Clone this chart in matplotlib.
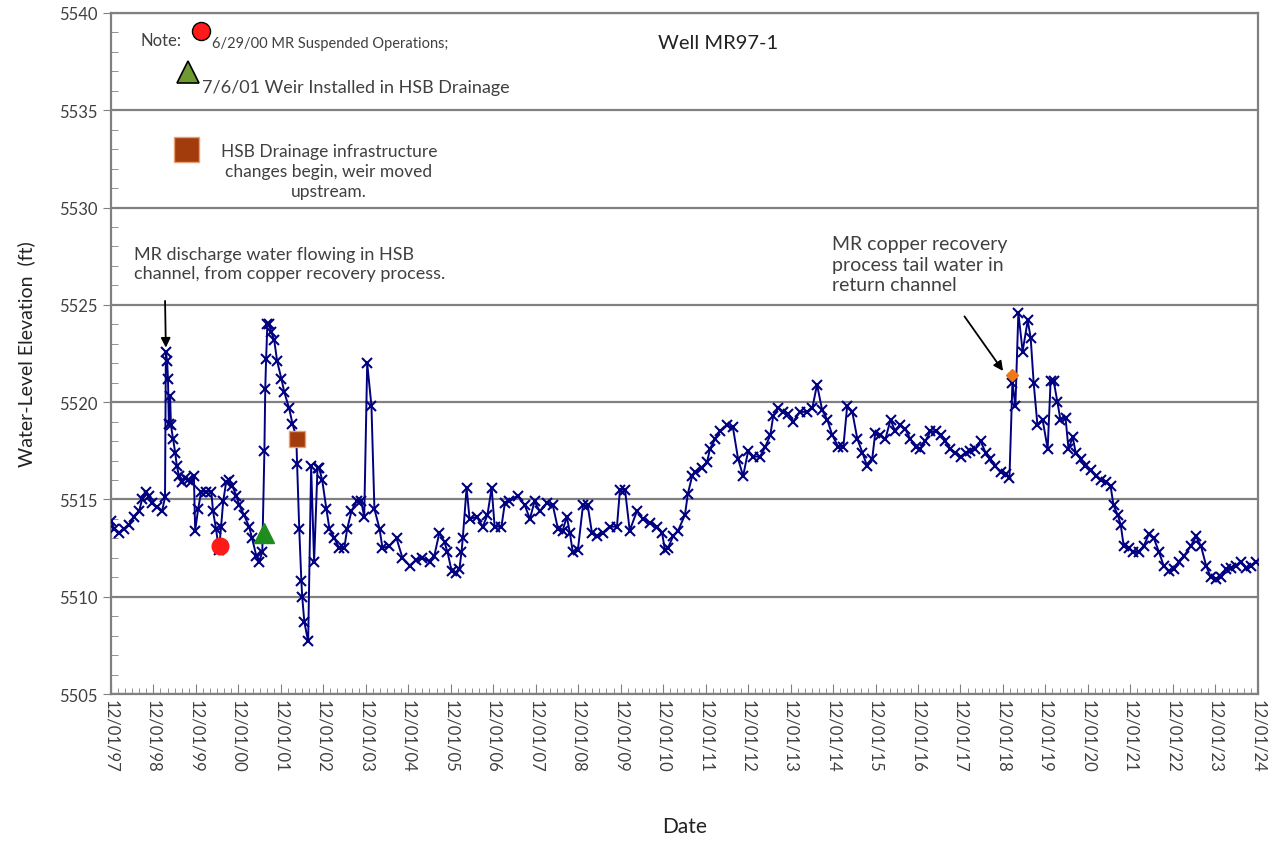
import matplotlib.pyplot as plt
from matplotlib.ticker import FixedLocator, MultipleLocator

# decimal years and water-level elevation (ft)
years = [
    1997.92, 1997.99, 1998.11, 1998.22, 1998.34, 1998.46, 1998.58, 1998.65, 1998.74, 1998.81,
    1998.88, 1999.00, 1999.12, 1999.19, 1999.21, 1999.24, 1999.26, 1999.28, 1999.31, 1999.33,
    1999.38, 1999.43, 1999.47, 1999.52, 1999.59, 1999.66, 1999.73, 1999.80, 1999.87, 1999.90,
    1999.97, 2000.04, 2000.16, 2000.28, 2000.32, 2000.39, 2000.46, 2000.51, 2000.56, 2000.63,
    2000.70, 2000.77, 2000.87, 2000.94, 2001.05, 2001.17, 2001.24, 2001.34, 2001.41, 2001.48,
    2001.53, 2001.55, 2001.57, 2001.60, 2001.64, 2001.69, 2001.76, 2001.83, 2001.93, 2002.00,
    2002.11, 2002.19, 2002.28, 2002.30, 2002.35, 2002.40, 2002.42, 2002.47, 2002.56, 2002.63,
    2002.70, 2002.78, 2002.82, 2002.89, 2002.99, 2003.06, 2003.18, 2003.29, 2003.41, 2003.48,
    2003.58, 2003.70, 2003.81, 2003.88, 2003.95, 2004.05, 2004.12, 2004.24, 2004.31, 2004.47,
    2004.64, 2004.78, 2004.95, 2005.11, 2005.25, 2005.42, 2005.53, 2005.65, 2005.77, 2005.84,
    2005.94, 2006.05, 2006.12, 2006.17, 2006.20, 2006.29, 2006.36, 2006.53, 2006.67, 2006.78,
    2006.88, 2006.95, 2007.11, 2007.19, 2007.30, 2007.49, 2007.66, 2007.78, 2007.89, 2008.01,
    2008.18, 2008.32, 2008.44, 2008.55, 2008.65, 2008.72, 2008.79, 2008.91, 2009.03, 2009.14,
    2009.24, 2009.36, 2009.50, 2009.66, 2009.83, 2009.90, 2010.02, 2010.13, 2010.30, 2010.44,
    2010.61, 2010.77, 2010.89, 2010.96, 2011.03, 2011.15, 2011.27, 2011.43, 2011.50, 2011.60,
    2011.67, 2011.83, 2011.95, 2012.02, 2012.14, 2012.26, 2012.42, 2012.56, 2012.68, 2012.80,
    2012.92, 2013.04, 2013.20, 2013.32, 2013.44, 2013.51, 2013.63, 2013.74, 2013.86, 2013.98,
    2014.14, 2014.31, 2014.43, 2014.54, 2014.66, 2014.78, 2014.90, 2015.04, 2015.16, 2015.25,
    2015.37, 2015.49, 2015.61, 2015.72, 2015.84, 2015.91, 2016.03, 2016.15, 2016.27, 2016.38,
    2016.50, 2016.62, 2016.74, 2016.86, 2016.97, 2017.09, 2017.21, 2017.33, 2017.45, 2017.56,
    2017.68, 2017.80, 2017.92, 2018.04, 2018.15, 2018.27, 2018.39, 2018.51, 2018.62, 2018.74,
    2018.86, 2018.98, 2019.07, 2019.14, 2019.21, 2019.28, 2019.38, 2019.50, 2019.57, 2019.64,
    2019.73, 2019.85, 2019.97, 2020.04, 2020.11, 2020.20, 2020.27, 2020.39, 2020.46, 2020.56,
    2020.63, 2020.75, 2020.86, 2020.98, 2021.10, 2021.22, 2021.34, 2021.45, 2021.52, 2021.62,
    2021.69, 2021.76, 2021.88, 2021.99, 2022.11, 2022.23, 2022.35, 2022.47, 2022.59, 2022.70,
    2022.82, 2022.94, 2023.06, 2023.18, 2023.34, 2023.46, 2023.58, 2023.70, 2023.81, 2023.93,
    2024.05, 2024.17, 2024.29, 2024.40, 2024.52, 2024.64, 2024.76, 2024.88,
]
elevation = [
    5513.9, 5513.5, 5513.3, 5513.5, 5513.7, 5514.1, 5514.4, 5515.0, 5515.4, 5515.2,
    5514.8, 5514.6, 5514.4, 5515.1, 5522.6, 5522.1, 5521.2, 5518.9, 5520.3, 5518.8,
    5518.1, 5517.4, 5516.7, 5516.2, 5515.9, 5516.1, 5516.0, 5515.9, 5516.2, 5513.4,
    5514.5, 5515.4, 5515.4, 5515.4, 5514.4, 5513.5, 5512.4, 5513.6, 5514.9, 5515.9,
    5516.0, 5515.7, 5515.2, 5514.7, 5514.2, 5513.6, 5513.0, 5512.1, 5511.8, 5512.3,
    5517.5, 5520.7, 5522.2, 5524.0, 5524.0, 5523.6, 5523.2, 5522.1, 5521.2, 5520.5,
    5519.7, 5518.9, 5518.2, 5516.8, 5513.5, 5510.8, 5510.0, 5508.7, 5507.7, 5516.7,
    5511.8, 5516.6, 5516.6, 5516.0, 5514.5, 5513.5, 5513.0, 5512.5, 5512.5, 5513.5,
    5514.4, 5514.9, 5514.9, 5514.1, 5522.0, 5519.8, 5514.5, 5513.5, 5512.5, 5512.6,
    5513.0, 5512.0, 5511.6, 5511.9, 5512.0, 5511.8, 5512.1, 5513.3, 5512.8, 5512.3,
    5511.3, 5511.2, 5511.4, 5512.3, 5513.0, 5515.6, 5514.0, 5514.1, 5513.6, 5514.2,
    5515.6, 5513.6, 5513.6, 5514.8, 5514.9, 5515.2, 5514.7, 5514.0, 5514.9, 5514.4,
    5514.8, 5514.7, 5513.5, 5513.4, 5514.1, 5513.3, 5512.3, 5512.4, 5514.7, 5514.7,
    5513.3, 5513.1, 5513.3, 5513.6, 5513.6, 5515.5, 5515.5, 5513.4, 5514.4, 5514.0,
    5513.8, 5513.6, 5513.3, 5512.4, 5512.5, 5513.1, 5513.4, 5514.2, 5515.3, 5516.2,
    5516.4, 5516.6, 5516.9, 5517.6, 5518.1, 5518.5, 5518.8, 5518.7, 5517.1, 5516.2,
    5517.5, 5517.2, 5517.2, 5517.7, 5518.3, 5519.3, 5519.7, 5519.5, 5519.4, 5519.0,
    5519.5, 5519.5, 5519.7, 5520.9, 5519.6, 5519.1, 5518.3, 5517.7, 5517.7, 5519.8,
    5519.5, 5518.1, 5517.4, 5516.7, 5517.1, 5518.4, 5518.3, 5518.1, 5519.1, 5518.5,
    5518.8, 5518.6, 5518.1, 5517.7, 5517.6, 5518.0, 5518.5, 5518.5, 5518.3, 5518.0,
    5517.6, 5517.4, 5517.2, 5517.4, 5517.5, 5517.6, 5518.0, 5517.4, 5517.1, 5516.7,
    5516.4, 5516.3, 5516.1, 5521.0, 5519.8, 5524.6, 5522.6, 5524.2, 5523.3, 5521.0,
    5518.8, 5519.1, 5517.6, 5521.1, 5521.1, 5520.0, 5519.1, 5519.2, 5517.6, 5518.2,
    5517.4, 5517.1, 5516.7, 5516.5, 5516.2, 5516.0, 5515.9, 5515.7, 5514.7, 5514.2,
    5513.7, 5512.6, 5512.5, 5512.3, 5512.3, 5512.6, 5513.2, 5513.0, 5512.3, 5511.6,
    5511.3, 5511.4, 5511.8, 5512.1, 5512.6, 5513.1, 5512.6, 5511.6, 5511.0, 5510.9,
    5511.0, 5511.4, 5511.5, 5511.6, 5511.8, 5511.5, 5511.6, 5511.8,
]

# event markers (date as decimal year, elevation)
suspended = (2000.49, 5512.6)
weir_installed = (2001.51, 5513.3)
weir_moved = (2002.29, 5518.1)
tail_water = (2019.12, 5521.4)

tick_years = [1997 + 11 / 12 + k for k in range(28)]
tick_labels = ["12/01/%02d" % ((1997 + k) % 100) for k in range(28)]

plt.rcParams['font.family'] = ['Lato', 'DejaVu Sans']
grey = "#808080"
txt = "#404040"

fig = plt.figure(figsize=(12.75, 8.45), dpi=100)
ax = fig.add_axes([0.0870, 0.1775, 0.8995, 0.806])

ax.plot(years, elevation, color="#000080", lw=1.4, marker="x", ms=7, mew=1.5, zorder=3)

ax.plot(*suspended, "o", color="#ff1a1a", ms=12, zorder=4)
ax.plot(*weir_installed, "^", color="#1e8c1e", ms=14, zorder=4)
ax.plot(*weir_moved, "s", color="#a23c0c", mec="#e8a070", ms=12, zorder=4)
ax.plot(*tail_water, "D", color="#f07814", ms=6, zorder=4)

ax.set_xlim(tick_years[0], tick_years[-1])
ax.set_ylim(5505, 5540)
ax.xaxis.set_major_locator(FixedLocator(tick_years))
ax.xaxis.set_minor_locator(FixedLocator([tick_years[0] + i / 6 for i in range(27 * 6)]))
ax.set_xticklabels(tick_labels, rotation=270, fontsize=12, color=txt)
ax.yaxis.set_major_locator(MultipleLocator(5))
ax.yaxis.set_minor_locator(MultipleLocator(1))
ax.tick_params(axis='y', which='major', direction='out', length=6, color=grey, labelsize=12, labelcolor=txt)
ax.tick_params(axis='y', which='minor', direction='in', length=5, color=grey)
ax.tick_params(axis='x', which='major', direction='in', length=7, color=grey)
ax.tick_params(axis='x', which='minor', direction='in', length=4, color=grey)
ax.grid(axis='y', which='major', color=grey, lw=1.6)
for s in ax.spines.values():
    s.set_color(grey)
    s.set_linewidth(1.6)

ax.set_ylabel("Water-Level Elevation  (ft)", fontsize=14, color="#222222", labelpad=17)
ax.set_xlabel("Date", fontsize=15, color="#222222", labelpad=32)

# notes at the top
ax.text(0.026, 0.960, "Note:", transform=ax.transAxes, fontsize=12, color=txt, va="center")
ax.plot(0.0785, 0.974, "o", transform=ax.transAxes, color="#ff1a1a", mec="black", mew=1, ms=13)
ax.text(0.088, 0.956, "6/29/00 MR Suspended Operations;", transform=ax.transAxes,
        fontsize=10.5, color=txt, va="center")
ax.plot(0.0675, 0.914, "^", transform=ax.transAxes, color="#6f9a32", mec="black", mew=1.2, ms=16)
ax.text(0.079, 0.891, "7/6/01 Weir Installed in HSB Drainage", transform=ax.transAxes,
        fontsize=13, color=txt, va="center")
ax.plot(0.0655, 0.8, "s", transform=ax.transAxes, color="#a23c0c", mec="#e8a070", ms=18)
ax.text(0.19, 0.768, "HSB Drainage infrastructure\nchanges begin, weir moved\nupstream.",
        transform=ax.transAxes, fontsize=12.5, color=txt, ha="center", va="center", linespacing=1.3)
ax.text(0.529, 0.956, "Well MR97-1", transform=ax.transAxes, fontsize=14.5, color="#222222",
        ha="center", va="center")

ax.annotate("MR discharge water flowing in HSB\nchannel, from copper recovery process.",
            xy=(1999.21, 5522.8), xytext=(1998.45, 5526.2), fontsize=13, color=txt,
            ha="left", va="bottom", linespacing=1.25,
            arrowprops=dict(arrowstyle="-|>", color="black", lw=1.3, shrinkA=12, shrinkB=0,
                            mutation_scale=14, relpos=(0.1, 0.0)))
ax.annotate("MR copper recovery\nprocess tail water in\nreturn channel",
            xy=(2018.92, 5521.6), xytext=(2014.9, 5525.6), fontsize=14, color=txt,
            ha="left", va="bottom", linespacing=1.25,
            arrowprops=dict(arrowstyle="-|>", color="black", lw=1.3, shrinkA=18, shrinkB=0,
                            mutation_scale=14, relpos=(0.66, 0.0)))

fig.savefig("out.png", dpi=100)
